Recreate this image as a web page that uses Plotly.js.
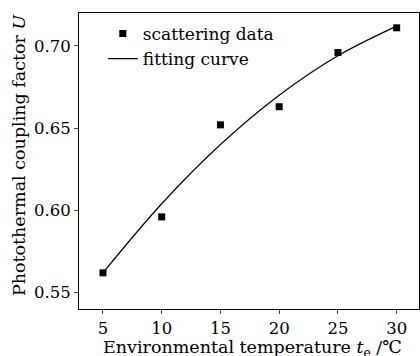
<!DOCTYPE html>
<html>
<head>
<meta charset="utf-8">
<script src="https://cdn.plot.ly/plotly-3.0.1.min.js"></script>
<style>html,body{margin:0;padding:0;background:#fff;}#chart{width:420px;height:356px;}</style>
</head>
<body>
<div id="chart"></div>
<script>
const temperature = [5, 10, 15, 20, 25, 30];
const couplingFactor = [0.562, 0.596, 0.652, 0.663, 0.696, 0.711];
const fitTemperature = [5, 10, 15, 20, 25, 30];
const fitValues = [0.562, 0.604, 0.640, 0.670, 0.694, 0.712];
const xTicks = [5, 10, 15, 20, 25, 30];
const yTicks = [0.55, 0.60, 0.65, 0.70];
const yTickLabels = ['0.55', '0.60', '0.65', '0.70'];
const xTitle = 'Environmental temperature <i>t</i><sub>e</sub> /℃';
const yTitle = 'Photothermal coupling factor <i>U</i>';

const font = "'DejaVu Serif', serif";

const traces = [
  {
    x: temperature, y: couplingFactor, type: 'scatter', mode: 'markers',
    name: 'scattering data',
    marker: {symbol: 'square', size: 7, color: '#000'}
  },
  {
    x: fitTemperature, y: fitValues, type: 'scatter', mode: 'lines',
    name: 'fitting curve',
    line: {color: '#000', width: 1.2, shape: 'spline', smoothing: 1}
  }
];

const layout = {
  width: 420, height: 356,
  margin: {l: 79, r: 1, t: 13, b: 47},
  paper_bgcolor: '#fff', plot_bgcolor: '#fff',
  font: {family: font, color: '#000', size: 16},
  showlegend: true,
  legend: {x: 0.07, y: 0.99, xanchor: 'left', yanchor: 'top', bgcolor: 'rgba(0,0,0,0)',
           font: {family: font, size: 17}, tracegroupgap: 0, itemwidth: 30},
  xaxis: {
    range: [2.96, 31.9], tickvals: xTicks, ticks: 'outside', ticklen: 4, tickwidth: 1,
    showline: true, linecolor: '#000', linewidth: 1, mirror: true, showgrid: false, zeroline: false,
    tickfont: {family: font, size: 16.5}
  },
  yaxis: {
    range: [0.540, 0.720], tickvals: yTicks, ticktext: yTickLabels, ticks: 'outside', ticklen: 4, tickwidth: 1,
    showline: true, linecolor: '#000', linewidth: 1, mirror: true, showgrid: false, zeroline: false,
    tickfont: {family: font, size: 16.5}
  },
  annotations: [
    {text: xTitle, xref: 'paper', yref: 'paper', x: 0.51, y: 0, yshift: -39, xanchor: 'center', yanchor: 'middle',
     showarrow: false, font: {family: font, size: 17.5}},
    {text: yTitle, xref: 'paper', yref: 'paper', x: 0, y: 0.52, xshift: -60, xanchor: 'center', yanchor: 'middle',
     textangle: -90, showarrow: false, font: {family: font, size: 17.5}}
  ]
};

Plotly.newPlot('chart', traces, layout, {staticPlot: true, displayModeBar: false});
</script>
</body>
</html>
